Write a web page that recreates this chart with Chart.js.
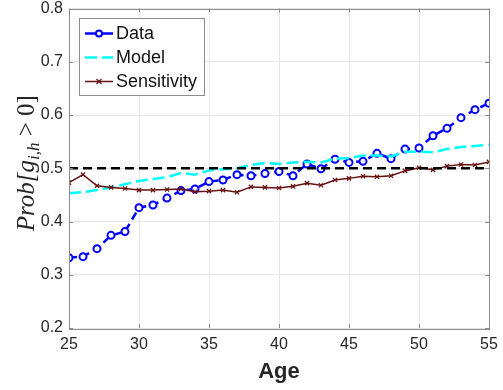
<!DOCTYPE html>
<html>
<head>
<meta charset="utf-8">
<script src="https://cdn.jsdelivr.net/npm/chart.js@4"></script>
<style>
  html, body { margin: 0; padding: 0; background: #fff; }
  #wrap { width: 503px; height: 390px; }
</style>
</head>
<body>
<div id="wrap"><canvas id="chart" width="503" height="390"></canvas></div>
<script>
const ages = [25, 26, 27, 28, 29, 30, 31, 32, 33, 34, 35, 36, 37, 38, 39, 40,
	41, 42, 43, 44, 45, 46, 47, 48, 49, 50, 51, 52, 53, 54, 55];

const dataProb = [0.332, 0.334, 0.349, 0.374, 0.381, 0.426, 0.431, 0.444, 0.458, 0.461,
	0.475, 0.478, 0.488, 0.486, 0.490, 0.494, 0.486, 0.508, 0.499, 0.517,
	0.511, 0.513, 0.528, 0.518, 0.536, 0.538, 0.561, 0.575, 0.595, 0.610, 0.622];

const modelProb = [0.453, 0.455, 0.459, 0.464, 0.470, 0.476, 0.480, 0.483, 0.491, 0.488,
	0.496, 0.498, 0.500, 0.506, 0.510, 0.508, 0.511, 0.512, 0.511, 0.518,
	0.519, 0.524, 0.524, 0.522, 0.531, 0.531, 0.530, 0.536, 0.540, 0.542, 0.544];

const sensProb = [0.473, 0.488, 0.467, 0.464, 0.462, 0.459, 0.459, 0.460, 0.461, 0.456,
	0.457, 0.459, 0.455, 0.465, 0.464, 0.463, 0.466, 0.472, 0.468, 0.478,
	0.481, 0.485, 0.484, 0.486, 0.495, 0.501, 0.497, 0.504, 0.507, 0.506, 0.512];

const refLevel = 0.5;
const xTicks = [25, 30, 35, 40, 45, 50, 55];
const yTicks = [0.2, 0.3, 0.4, 0.5, 0.6, 0.7, 0.8];
const seriesNames = ["Data", "Model", "Sensitivity"];

const toPoints = vals => vals.map((v, i) => ({ x: ages[i], y: v }));

const textColor = "#262626";
const frameColor = "#8c8c8c";

Chart.defaults.font.family = '"Liberation Sans", Arial, sans-serif';
Chart.defaults.color = textColor;

// axes box with inward ticks on all four sides
const framePlugin = {
	id: "frame",
	afterDraw(chart) {
		const { ctx, chartArea: a, scales } = chart;
		ctx.save();
		ctx.strokeStyle = frameColor;
		ctx.lineWidth = 1;
		ctx.beginPath();
		xTicks.forEach(t => {
			const px = Math.round(scales.x.getPixelForValue(t)) + 0.5;
			ctx.moveTo(px, a.bottom); ctx.lineTo(px, a.bottom - 4);
			ctx.moveTo(px, a.top); ctx.lineTo(px, a.top + 4);
		});
		yTicks.forEach(t => {
			const py = Math.round(scales.y.getPixelForValue(t)) + 0.5;
			ctx.moveTo(a.left, py); ctx.lineTo(a.left + 4, py);
			ctx.moveTo(a.right, py); ctx.lineTo(a.right - 4, py);
		});
		ctx.stroke();
		ctx.strokeRect(Math.round(a.left) + 0.5, Math.round(a.top) + 0.5,
			Math.round(a.right - a.left), Math.round(a.bottom - a.top));
		ctx.restore();
	}
};

// y label with a real subscript
const yLabelPlugin = {
	id: "ylabel",
	afterDraw(chart) {
		const { ctx, chartArea: a } = chart;
		const big = 'italic 25px "Liberation Serif", "Times New Roman", serif';
		const small = 'italic 17px "Liberation Serif", "Times New Roman", serif';
		const upright = '25px "Liberation Serif", "Times New Roman", serif';
		const parts = [
			{ t: "Prob[g", f: big, dy: 0 },
			{ t: "i,h", f: small, dy: 5 },
			{ t: " > ", f: upright, dy: 0 },
			{ t: "0]", f: upright, dy: 0 }
		];
		ctx.save();
		let total = 0;
		parts.forEach(p => { ctx.font = p.f; p.w = ctx.measureText(p.t).width; total += p.w; });
		ctx.translate(34, (a.top + a.bottom) / 2 - 5);
		ctx.rotate(-Math.PI / 2);
		ctx.fillStyle = textColor;
		ctx.textBaseline = "alphabetic";
		let x = -total / 2;
		parts.forEach(p => {
			ctx.font = p.f;
			ctx.fillText(p.t, x, p.dy);
			x += p.w;
		});
		ctx.restore();
	}
};

// legend box in the upper-left corner of the plot
const legendPlugin = {
	id: "boxLegend",
	afterDraw(chart) {
		const { ctx, chartArea: a } = chart;
		const bx = a.left + 10, by = a.top + 9, bw = 125, bh = 77;
		ctx.save();
		ctx.fillStyle = "#fff";
		ctx.fillRect(bx, by, bw, bh);
		ctx.strokeStyle = frameColor;
		ctx.lineWidth = 1;
		ctx.strokeRect(Math.round(bx) + 0.5, Math.round(by) + 0.5, bw, bh);
		ctx.font = '18px "Liberation Sans", Arial, sans-serif';
		ctx.textBaseline = "middle";
		seriesNames.forEach((name, i) => {
			const ds = chart.data.datasets[i];
			const y = by + 16 + i * 24;
			const x0 = bx + 6, x1 = bx + 34, xm = (x0 + x1) / 2;
			ctx.strokeStyle = ds.borderColor;
			ctx.lineWidth = ds.borderWidth;
			ctx.setLineDash(i === 1 ? ds.borderDash : []);
			ctx.beginPath();
			ctx.moveTo(x0, y); ctx.lineTo(x1, y);
			ctx.stroke();
			ctx.setLineDash([]);
			if (i === 0) {
				ctx.fillStyle = "#fff";
				ctx.lineWidth = 2;
				ctx.beginPath();
				ctx.arc(xm, y, 3, 0, Math.PI * 2);
				ctx.fill(); ctx.stroke();
			} else if (i === 2) {
				ctx.lineWidth = 1.2;
				ctx.beginPath();
				ctx.moveTo(xm - 2.5, y - 2.5); ctx.lineTo(xm + 2.5, y + 2.5);
				ctx.moveTo(xm - 2.5, y + 2.5); ctx.lineTo(xm + 2.5, y - 2.5);
				ctx.stroke();
			}
			ctx.fillStyle = "#111";
			ctx.fillText(name, bx + 37, y + 1);
		});
		ctx.restore();
	}
};

new Chart(document.getElementById("chart"), {
	type: "line",
	data: {
		datasets: [
			{
				label: seriesNames[0],
				data: toPoints(dataProb),
				borderColor: "#0000ff",
				borderWidth: 2.5,
				borderDash: [8, 5],
				pointStyle: "circle",
				pointRadius: 3.5,
				pointBorderWidth: 2,
				pointBackgroundColor: "#fff",
				pointBorderColor: "#0000ff",
				order: 4
			},
			{
				label: seriesNames[1],
				data: toPoints(modelProb),
				borderColor: "#00ffff",
				borderWidth: 2.5,
				borderDash: [12, 5],
				pointRadius: 0,
				order: 3
			},
			{
				label: seriesNames[2],
				data: toPoints(sensProb),
				borderColor: "#661111",
				borderWidth: 1.5,
				pointStyle: "crossRot",
				pointRadius: 3,
				pointBorderWidth: 1.2,
				pointBorderColor: "#661111",
				order: 2
			},
			{
				label: "ref",
				data: [{ x: ages[0], y: refLevel }, { x: ages[ages.length - 1], y: refLevel }],
				borderColor: "#000",
				borderWidth: 2.5,
				borderDash: [9, 5],
				pointRadius: 0,
				order: 1
			}
		]
	},
	options: {
		responsive: false,
		animation: false,
		layout: { padding: { left: 0, right: 14, top: 8.5, bottom: 1 } },
		scales: {
			x: {
				type: "linear",
				min: 25,
				max: 55,
				afterBuildTicks: axis => (axis.ticks = xTicks.map(value => ({ value }))),
				afterFit: scale => {
					scale.height = 61;
					scale.paddingLeft = 0;
					scale.paddingRight = 0;
				},
				grid: { color: "#e6e6e6", drawTicks: false },
				border: { display: false },
				ticks: { font: { size: 16 }, padding: 7, color: textColor },
				title: {
					display: true,
					text: "Age",
					font: { size: 22, weight: "bold" },
					color: textColor
				}
			},
			y: {
				min: 0.2,
				max: 0.8,
				afterBuildTicks: axis => (axis.ticks = yTicks.map(value => ({ value }))),
				afterFit: scale => {
					scale.width = 69;
					scale.paddingTop = 0;
					scale.paddingBottom = 0;
				},
				grid: { color: "#e6e6e6", drawTicks: false },
				border: { display: false },
				ticks: {
					font: { size: 16 },
					padding: 6,
					color: textColor,
					callback: v => v.toFixed(1)
				}
			}
		},
		plugins: {
			legend: { display: false },
			tooltip: { enabled: false }
		}
	},
	plugins: [framePlugin, yLabelPlugin, legendPlugin]
});
</script>
</body>
</html>
